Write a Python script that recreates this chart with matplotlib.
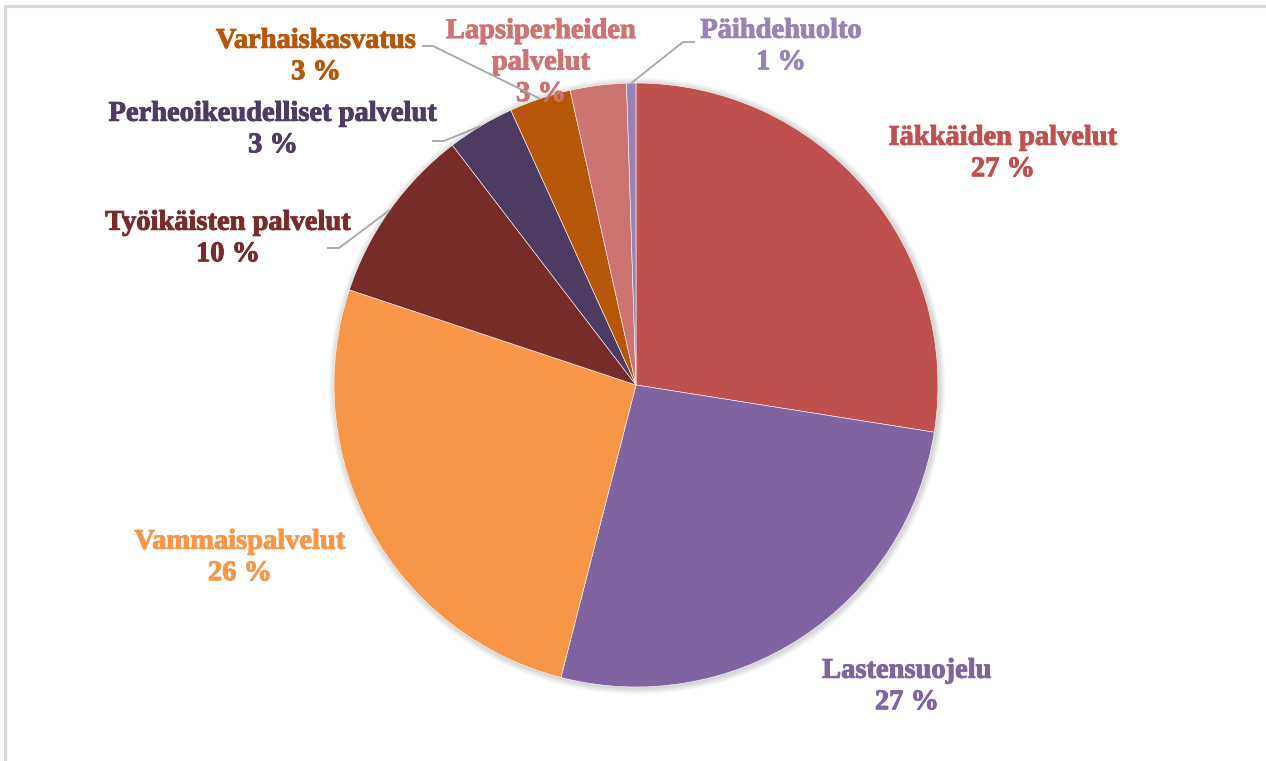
import matplotlib
matplotlib.use("Agg")
import matplotlib.pyplot as plt
import matplotlib.patheffects as pe
import numpy as np
from matplotlib.patches import Circle

categories = ["Iäkkäiden palvelut", "Lastensuojelu", "Vammaispalvelut",
              "Työikäisten palvelut", "Perheoikeudelliset palvelut",
              "Varhaiskasvatus", "Lapsiperheiden\npalvelut", "Päihdehuolto"]
values = [27.5, 26.5, 26.1, 9.5, 3.6, 3.3, 3.0, 0.5]
pct_labels = ["27 %", "27 %", "26 %", "10 %", "3 %", "3 %", "3 %", "1 %"]
colors = ["#C0504D", "#8064A2", "#F79646", "#772C2A", "#4D3B62",
          "#B65708", "#CD7371", "#9983B5"]

W, H = 1266, 761
fig = plt.figure(figsize=(W / 100, H / 100), dpi=100)
ax = fig.add_axes([0, 0, 1, 1])
ax.set_xlim(0, W)
ax.set_ylim(0, H)
ax.set_aspect("equal")
ax.axis("off")

cx, cy, R = 636, H - 385, 302

# soft shadow
for k in range(1, 8):
    ax.add_patch(Circle((cx + 1, cy - 1), R + k * 0.9, color="#000000",
                        alpha=0.025, lw=0, zorder=0))

wedges, _ = ax.pie(values, colors=colors, startangle=90, counterclock=False,
                   center=(cx, cy), radius=R, frame=True,
                   wedgeprops=dict(linewidth=0.4, edgecolor="white"))
ax.set_xlim(0, W)
ax.set_ylim(0, H)
ax.axis("off")

# label positions (image px, center of label block)
label_pos = [(1003, 154), (907, 687), (240, 558), (228, 239), (273, 130),
             (316, 57), (541, 63), (781, 47)]

font = dict(family="Liberation Serif", weight="bold", size=20.5)
for i, (lab, pct) in enumerate(zip(categories, pct_labels)):
    x, y = label_pos[i]
    ax.text(x, H - y, lab + "\n" + pct, ha="center", va="center",
            color=colors[i], linespacing=1.34, zorder=5,
            path_effects=[pe.withStroke(linewidth=0.7, foreground=colors[i])],
            **font)

# leader lines: (label side start, elbow)
leaders = {3: ((327, 248), (339, 248)),
           4: ((432, 141), (444, 141)),
           5: ((422, 46), (433, 46)),
           7: ((695, 42), (683, 42))}
for i, (p0, p1) in leaders.items():
    w = wedges[i]
    mid = np.deg2rad((w.theta1 + w.theta2) / 2)
    ex, ey = cx + R * np.cos(mid), cy + R * np.sin(mid)
    ax.plot([p0[0], p1[0], ex], [H - p0[1], H - p1[1], ey],
            color="#A6A6A6", lw=1.3, zorder=6, solid_capstyle="butt")

# chart border (partially visible)
ax.plot([5, 5, W + 10], [-10, H - 6, H - 6], color="#D9D9D9", lw=2.2,
        zorder=1, clip_on=False)

fig.savefig("out.png", dpi=100, facecolor="white")
